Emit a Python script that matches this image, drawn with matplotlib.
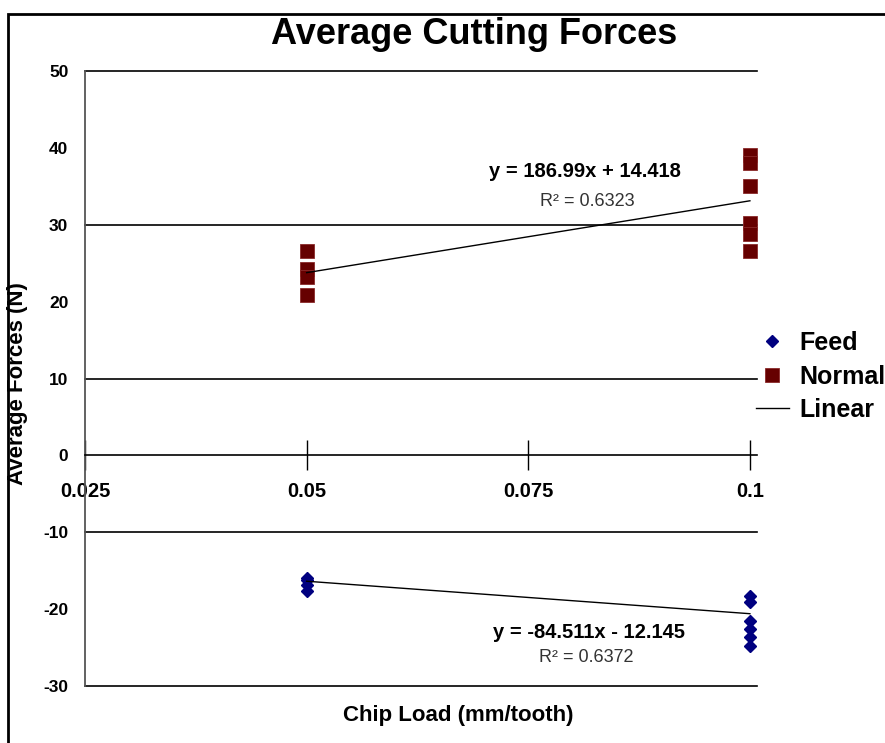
import matplotlib
matplotlib.use('Agg')
import matplotlib.pyplot as plt
from matplotlib.patches import Rectangle
import numpy as np

plt.rcParams['font.family'] = ['Liberation Sans', 'DejaVu Sans']

# Datos
carga_normal_005 = [26.6, 24.3, 23.2, 20.9]
carga_normal_01 = [39.1, 38.0, 35.0, 30.2, 28.8, 26.6]
carga_feed_005 = [-15.9, -16.2, -16.8, -17.7]
carga_feed_01 = [-18.3, -19.1, -21.6, -22.6, -23.6, -24.8]
chip_load = [0.05, 0.1]

# Lineas de tendencia (pendiente, ordenada) y sus textos
tendencia_normal = (186.99, 14.418)
tendencia_feed = (-84.511, -12.145)
texto_normal = ('y = 186.99x + 14.418', 'R² = 0.6323')
texto_feed = ('y = -84.511x - 12.145', 'R² = 0.6372')

x_ticks = [0.025, 0.05, 0.075, 0.1]
x_tick_labels = ['0.025', '0.05', '0.075', '0.1']
y_ticks = [-30, -20, -10, 0, 10, 20, 30, 40, 50]
lineas_grid = [50, 30, 10, -10, -30]

fig = plt.figure(figsize=(8.85, 7.43), dpi=100)
ax = fig.add_axes([85 / 885, 1 - 686 / 743, (757 - 85) / 885, (686 - 71) / 743])

# Marco exterior (solo se ven arriba e izquierda)
fig.patches.append(Rectangle((8 / 885, -0.1), 1.2, (743 - 14) / 743 + 0.1,
                             transform=fig.transFigure, fill=False,
                             edgecolor='black', lw=2))

for g in lineas_grid:
    ax.axhline(g, color='black', lw=1.2, clip_on=False, zorder=1)

# Puntos
x_n = [chip_load[0]] * len(carga_normal_005) + [chip_load[1]] * len(carga_normal_01)
y_n = carga_normal_005 + carga_normal_01
x_f = [chip_load[0]] * len(carga_feed_005) + [chip_load[1]] * len(carga_feed_01)
y_f = carga_feed_005 + carga_feed_01

(p_feed,) = ax.plot(x_f, y_f, linestyle='none', marker='D', markersize=6,
                    color='#000080', label='Feed', zorder=3)
(p_normal,) = ax.plot(x_n, y_n, linestyle='none', marker='s', markersize=9.5,
                      color='#660000', markeredgecolor='#8a2a2a', markeredgewidth=0.6,
                      label='Normal', zorder=3)

# Tendencias lineales
xs = np.array(chip_load)
(l_normal,) = ax.plot(xs, tendencia_normal[0] * xs + tendencia_normal[1],
                      color='black', lw=1, label='Linear', zorder=4)
ax.plot(xs, tendencia_feed[0] * xs + tendencia_feed[1], color='black', lw=1, zorder=4)

ax.set_xlim(0.025, 0.1008)
ax.set_ylim(-30, 50)

ax.spines['top'].set_visible(False)
ax.spines['right'].set_visible(False)
ax.spines['left'].set_color('#555555')
ax.spines['left'].set_linewidth(1.3)
ax.spines['bottom'].set_position(('data', 0))
ax.spines['bottom'].set_linewidth(1.2)

ax.set_xticks(x_ticks)
ax.set_xticklabels(x_tick_labels, fontsize=14.5, fontweight='bold')
ax.tick_params(axis='x', direction='inout', length=22, width=1, pad=8)
ax.set_yticks(y_ticks)
ax.set_yticklabels([str(v) for v in y_ticks], fontsize=12.5, fontweight='bold')
ax.tick_params(axis='y', length=0, pad=12)

# Textos de las ecuaciones
ax.text(0.0814, 36.9, texto_normal[0], fontsize=14.5, fontweight='bold', ha='center', va='center')
ax.text(0.0817, 33.0, texto_normal[1], fontsize=13, color='#333333', ha='center', va='center')
ax.text(0.0818, -23.1, texto_feed[0], fontsize=14.5, fontweight='bold', ha='center', va='center')
ax.text(0.0815, -26.3, texto_feed[1], fontsize=13, color='#333333', ha='center', va='center')

fig.text(474 / 885, 1 - 35 / 743, 'Average Cutting Forces', fontsize=26,
         fontweight='bold', ha='center', va='center')
fig.text(458 / 885, 1 - 716 / 743, 'Chip Load (mm/tooth)', fontsize=16,
         fontweight='bold', ha='center', va='center')
fig.text(18 / 885, 1 - 384 / 743, 'Average Forces (N)', fontsize=16,
         fontweight='bold', ha='center', va='center', rotation=90)

fig.legend(handles=[p_feed, p_normal, l_normal], loc='upper left',
           bbox_to_anchor=(756 / 885, 1 - 331 / 743), frameon=False,
           prop={'size': 18, 'weight': 'bold'}, handlelength=1.3,
           handletextpad=0.45, labelspacing=0.38, borderaxespad=0, borderpad=0)

fig.savefig('out.png', dpi=100)
